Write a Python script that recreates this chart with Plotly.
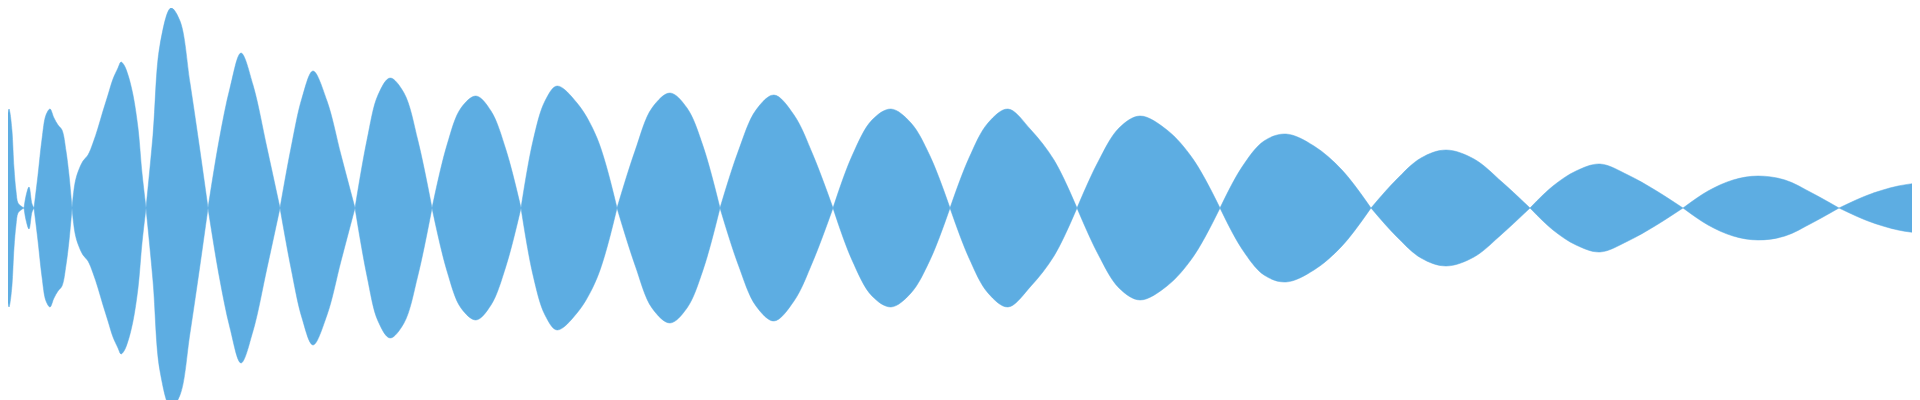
import plotly.graph_objects as go

# Upper envelope of the waveform, read lobe by lobe (node to node).
# x: sample position, amp: envelope amplitude (waveform is symmetric about 0)
lobe_x = [
    [0, 1, 2, 4, 6, 8, 10, 13, 16],
    [16, 18, 21, 24, 26],
    [26, 30, 34, 38, 42, 46, 50, 54, 58, 61, 64],
    [64, 67, 70, 75, 80, 85, 90, 95, 100, 105, 110, 113, 116, 120, 125, 130, 134, 138],
    [138, 145, 152, 163, 172, 182, 192, 200],
    [200, 211, 222, 233, 245, 259, 272],
    [272, 283, 294, 305, 319, 333, 347],
    [347, 359, 370, 382, 396, 410, 424],
    [424, 439, 453, 468, 483, 498, 513],
    [513, 525, 537, 549, 569, 589, 609],
    [609, 627, 644, 662, 679, 695, 712],
    [712, 730, 748, 766, 786, 805, 825],
    [825, 844, 864, 883, 903, 922, 942],
    [942, 961, 980, 1000, 1023, 1046, 1069],
    [1069, 1090, 1111, 1132, 1159, 1185, 1212],
    [1212, 1234, 1256, 1278, 1306, 1334, 1363],
    [1363, 1388, 1413, 1438, 1466, 1494, 1522],
    [1522, 1545, 1568, 1592, 1620, 1647, 1675],
    [1675, 1700, 1725, 1750, 1777, 1804, 1831],
    [1831, 1860, 1890, 1919],
]
lobe_amp = [
    [95, 99, 95, 77, 40, 17, 5, 2, 0],
    [0, 12, 21, 4, 0],
    [0, 33, 69, 93, 99, 90, 83, 78, 57, 33, 0],
    [0, 25, 36, 47, 53, 65, 80, 97, 113, 129, 140, 146, 143, 133, 113, 80, 35, 0],
    [0, 73, 163, 200, 187, 125, 57, 0],
    [0, 67, 120, 155, 123, 60, 0],
    [0, 60, 110, 137, 107, 53, 0],
    [0, 68, 113, 130, 115, 67, 0],
    [0, 63, 100, 112, 97, 58, 0],
    [0, 67, 107, 122, 105, 70, 0],
    [0, 57, 100, 115, 100, 62, 0],
    [0, 56, 98, 113, 93, 53, 0],
    [0, 52, 88, 99, 85, 52, 0],
    [0, 50, 85, 99, 78, 48, 0],
    [0, 46, 80, 92, 78, 49, 0],
    [0, 41, 67, 74, 62, 38, 0],
    [0, 28, 50, 58, 49, 26, 0],
    [0, 22, 37, 44, 33, 18, 0],
    [0, 17, 28, 32, 28, 15, 0],
    [0, 13, 22, 26],
]

COLOR = "#5DADE2"

fig = go.Figure()
for xs, amps in zip(lobe_x, lobe_amp):
    for sign in (1, -1):
        fig.add_trace(go.Scatter(
            x=xs,
            y=[sign * a for a in amps],
            mode="lines",
            line=dict(color=COLOR, width=0.5, shape="spline",
                      smoothing=1, simplify=False),
            fill="tozeroy",
            fillcolor=COLOR,
            hoverinfo="skip",
            showlegend=False,
        ))

fig.update_layout(
    width=1920,
    height=400,
    margin=dict(l=0, r=0, t=0, b=0),
    paper_bgcolor="white",
    plot_bgcolor="white",
    xaxis=dict(range=[0, 1920], visible=False, fixedrange=True),
    yaxis=dict(range=[-200, 200], visible=False, fixedrange=True),
)

fig.write_html("out.html")
